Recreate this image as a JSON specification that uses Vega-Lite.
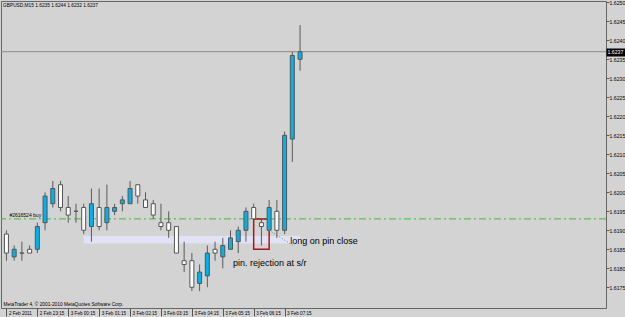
{
  "$schema": "https://vega.github.io/schema/vega-lite/v6.json",
  "width": 605,
  "height": 307,
  "autosize": {"type": "none"},
  "padding": {"left": 1, "top": 1, "right": 19, "bottom": 9},
  "background": "#d3d3d3",
  "view": {"stroke": "#666666", "strokeWidth": 1},
  "config": {
    "font": "Liberation Sans",
    "axisX": {
      "labelAlign": "left", "labelBaseline": "top", "labelFlush": false, "labelOverlap": false, "labelBound": false,
      "labelOffset": 2, "labelPadding": -6, "labelFontSize": 4.6, "labelColor": "#000000", "labelFont": "Liberation Sans",
      "tickSize": 8, "tickColor": "#555555", "tickWidth": 1, "domain": false, "grid": false,
      "titleX": 2, "titleY": -1.5, "titleAlign": "left", "titleBaseline": "bottom", "titleFontSize": 4.8,
      "titleFontWeight": "normal", "titleColor": "#000000", "titleFont": "Liberation Sans"
    },
    "axisY": {
      "labelFontSize": 5.2, "labelFont": "Liberation Sans", "labelAlign": "left", "labelBaseline": "middle",
      "labelOverlap": false, "labelBound": false, "domain": false, "grid": false
    }
  },
  "title": {
    "text": "GBPUSD,M15  1.6235 1.6244 1.6232 1.6237",
    "anchor": "start",
    "frame": "group",
    "orient": "top",
    "offset": -8,
    "dx": 2,
    "fontSize": 4.8,
    "fontWeight": "normal",
    "font": "Liberation Sans",
    "color": "#000000"
  },
  "datasets": {
    "candles": [
      {"t": "2011-02-02T22:15:00Z", "o": 1.6189, "h": 1.6190, "l": 1.6182, "c": 1.6184},
      {"t": "2011-02-02T22:30:00Z", "o": 1.6183, "h": 1.6186, "l": 1.6182, "c": 1.6185},
      {"t": "2011-02-02T22:45:00Z", "o": 1.6184, "h": 1.6187, "l": 1.6182, "c": 1.6184},
      {"t": "2011-02-02T23:00:00Z", "o": 1.6185, "h": 1.6186, "l": 1.6184, "c": 1.6184},
      {"t": "2011-02-02T23:15:00Z", "o": 1.6185, "h": 1.6192, "l": 1.6184, "c": 1.6191},
      {"t": "2011-02-02T23:30:00Z", "o": 1.6192, "h": 1.6200, "l": 1.6190, "c": 1.6199},
      {"t": "2011-02-02T23:45:00Z", "o": 1.6197, "h": 1.6203, "l": 1.6196, "c": 1.6201},
      {"t": "2011-02-03T00:00:00Z", "o": 1.6202, "h": 1.6203, "l": 1.6195, "c": 1.6196},
      {"t": "2011-02-03T00:15:00Z", "o": 1.6196, "h": 1.6199, "l": 1.6192, "c": 1.6194},
      {"t": "2011-02-03T00:30:00Z", "o": 1.6195, "h": 1.6197, "l": 1.6192, "c": 1.6195},
      {"t": "2011-02-03T00:45:00Z", "o": 1.6196, "h": 1.6197, "l": 1.6189, "c": 1.6190},
      {"t": "2011-02-03T01:00:00Z", "o": 1.6191, "h": 1.6201, "l": 1.6187, "c": 1.6197},
      {"t": "2011-02-03T01:15:00Z", "o": 1.6196, "h": 1.6201, "l": 1.6190, "c": 1.6191},
      {"t": "2011-02-03T01:30:00Z", "o": 1.6192, "h": 1.6202, "l": 1.6190, "c": 1.6196},
      {"t": "2011-02-03T01:45:00Z", "o": 1.6195, "h": 1.6197, "l": 1.6194, "c": 1.6196},
      {"t": "2011-02-03T02:00:00Z", "o": 1.6197, "h": 1.6199, "l": 1.6195, "c": 1.6198},
      {"t": "2011-02-03T02:15:00Z", "o": 1.6197, "h": 1.6203, "l": 1.6197, "c": 1.6201},
      {"t": "2011-02-03T02:30:00Z", "o": 1.6202, "h": 1.6202, "l": 1.6197, "c": 1.6199},
      {"t": "2011-02-03T02:45:00Z", "o": 1.6198, "h": 1.6200, "l": 1.6196, "c": 1.6196},
      {"t": "2011-02-03T03:00:00Z", "o": 1.6197, "h": 1.6198, "l": 1.6193, "c": 1.6194},
      {"t": "2011-02-03T03:15:00Z", "o": 1.6192, "h": 1.6197, "l": 1.6190, "c": 1.6191},
      {"t": "2011-02-03T03:30:00Z", "o": 1.6192, "h": 1.6195, "l": 1.6188, "c": 1.6190},
      {"t": "2011-02-03T03:45:00Z", "o": 1.6191, "h": 1.6191, "l": 1.6184, "c": 1.6184},
      {"t": "2011-02-03T04:00:00Z", "o": 1.6182, "h": 1.6187, "l": 1.6179, "c": 1.6181},
      {"t": "2011-02-03T04:15:00Z", "o": 1.6182, "h": 1.6184, "l": 1.6174, "c": 1.6175},
      {"t": "2011-02-03T04:30:00Z", "o": 1.6176, "h": 1.6181, "l": 1.6174, "c": 1.6179},
      {"t": "2011-02-03T04:45:00Z", "o": 1.6178, "h": 1.6186, "l": 1.6175, "c": 1.6184},
      {"t": "2011-02-03T05:00:00Z", "o": 1.6185, "h": 1.6187, "l": 1.6182, "c": 1.6184},
      {"t": "2011-02-03T05:15:00Z", "o": 1.6183, "h": 1.6188, "l": 1.6180, "c": 1.6186},
      {"t": "2011-02-03T05:30:00Z", "o": 1.6185, "h": 1.6190, "l": 1.6185, "c": 1.6188},
      {"t": "2011-02-03T05:45:00Z", "o": 1.6187, "h": 1.6191, "l": 1.6184, "c": 1.6190},
      {"t": "2011-02-03T06:00:00Z", "o": 1.6190, "h": 1.6196, "l": 1.6187, "c": 1.6195},
      {"t": "2011-02-03T06:15:00Z", "o": 1.6196, "h": 1.6197, "l": 1.6193, "c": 1.6193},
      {"t": "2011-02-03T06:30:00Z", "o": 1.6192, "h": 1.6193, "l": 1.6186, "c": 1.6191},
      {"t": "2011-02-03T06:45:00Z", "o": 1.6190, "h": 1.6198, "l": 1.6190, "c": 1.6196},
      {"t": "2011-02-03T07:00:00Z", "o": 1.6195, "h": 1.6198, "l": 1.6188, "c": 1.6190},
      {"t": "2011-02-03T07:15:00Z", "o": 1.6190, "h": 1.6216, "l": 1.6189, "c": 1.6215},
      {"t": "2011-02-03T07:30:00Z", "o": 1.6214, "h": 1.6237, "l": 1.6208, "c": 1.6236},
      {"t": "2011-02-03T07:45:00Z", "o": 1.6235, "h": 1.6244, "l": 1.6232, "c": 1.6237}
    ],
    "zone": [{"start": "2011-02-03T00:45:00Z", "end": "2011-02-03T07:45:00Z", "lo": 1.61865, "hi": 1.61885}],
    "pinbox": [{"start": "2011-02-03T06:15:00Z", "end": "2011-02-03T06:45:00Z", "lo": 1.6185, "hi": 1.6193}],
    "orderline": [{"p": 1.6193, "t": "2011-02-02T22:15:00Z", "label": "#2616524 buy"}],
    "bidline": [{"p": 1.6237}],
    "trend": [{"t1": "2011-02-03T06:45:00Z", "p1": 1.6190, "t2": "2011-02-03T07:31:30Z", "p2": 1.6186}],
    "notes": [
      {"t": "2011-02-03T07:26:00Z", "p": 1.61873, "label": "long on pin close"},
      {"t": "2011-02-03T05:35:00Z", "p": 1.61814, "label": "pin. rejection at s/r"}
    ]
  },
  "layer": [
    {
      "data": {"name": "zone"},
      "mark": {"type": "rect", "color": "#e2e2f7"},
      "encoding": {
        "x": {"field": "start", "type": "temporal", "scale": {"type": "utc", "domain": [{"year": 2011, "month": 2, "date": 2, "hours": 22, "minutes": 14, "seconds": 10, "utc": true}, {"year": 2011, "month": 2, "date": 3, "hours": 17, "minutes": 29, "seconds": 13, "utc": true}]},
          "axis": {"values": [{"year": 2011, "month": 2, "date": 2, "hours": 22, "minutes": 15, "utc": true}, {"year": 2011, "month": 2, "date": 2, "hours": 23, "minutes": 15, "utc": true}, {"year": 2011, "month": 2, "date": 3, "hours": 0, "minutes": 15, "utc": true}, {"year": 2011, "month": 2, "date": 3, "hours": 1, "minutes": 15, "utc": true}, {"year": 2011, "month": 2, "date": 3, "hours": 2, "minutes": 15, "utc": true}, {"year": 2011, "month": 2, "date": 3, "hours": 3, "minutes": 15, "utc": true}, {"year": 2011, "month": 2, "date": 3, "hours": 4, "minutes": 15, "utc": true}, {"year": 2011, "month": 2, "date": 3, "hours": 5, "minutes": 15, "utc": true}, {"year": 2011, "month": 2, "date": 3, "hours": 6, "minutes": 15, "utc": true}, {"year": 2011, "month": 2, "date": 3, "hours": 7, "minutes": 15, "utc": true}], "labelExpr": "utcFormat(datum.value, '%H:%M') == '22:15' ? '2 Feb 2011' : utcFormat(datum.value, '%-d %b %H:%M')", "title": "MetaTrader 4, © 2001-2010 MetaQuotes Software Corp."}},
        "x2": {"field": "end"},
        "y": {"field": "lo", "type": "quantitative", "scale": {"domain": [1.616955, 1.625034], "nice": false, "zero": false},
          "axis": {"orient": "right", "title": null, "format": ".4f", "values": [1.6175, 1.618, 1.6185, 1.619, 1.6195, 1.62, 1.6205, 1.621, 1.6215, 1.622, 1.6225, 1.623, 1.6235, 1.624, 1.6245, 1.625, 1.6237], "labelColor": {"condition": {"test": "datum.value == 1.6237", "value": "#ffffff"}, "value": "#000000"}, "labelPadding": {"condition": {"test": "datum.value == 1.6237", "value": -18}, "value": 0}, "tickSize": {"condition": {"test": "datum.value == 1.6237", "value": 19}, "value": 3}, "tickWidth": {"condition": {"test": "datum.value == 1.6237", "value": 8}, "value": 1}, "tickColor": {"condition": {"test": "datum.value == 1.6237", "value": "#000000"}, "value": "#555555"}}},
        "y2": {"field": "hi"}
      }
    },
    {
      "data": {"name": "orderline"},
      "mark": {"type": "rule", "color": "#3cbf3c", "strokeWidth": 1, "strokeDash": [7, 3, 2, 3]},
      "encoding": {
        "y": {"field": "p", "type": "quantitative", "scale": {"domain": [1.616955, 1.625034], "nice": false, "zero": false},
          "axis": {"orient": "right", "title": null, "format": ".4f", "values": [1.6175, 1.618, 1.6185, 1.619, 1.6195, 1.62, 1.6205, 1.621, 1.6215, 1.622, 1.6225, 1.623, 1.6235, 1.624, 1.6245, 1.625, 1.6237], "labelColor": {"condition": {"test": "datum.value == 1.6237", "value": "#ffffff"}, "value": "#000000"}, "labelPadding": {"condition": {"test": "datum.value == 1.6237", "value": -18}, "value": 0}, "tickSize": {"condition": {"test": "datum.value == 1.6237", "value": 19}, "value": 3}, "tickWidth": {"condition": {"test": "datum.value == 1.6237", "value": 8}, "value": 1}, "tickColor": {"condition": {"test": "datum.value == 1.6237", "value": "#000000"}, "value": "#555555"}}}
      }
    },
    {
      "data": {"name": "bidline"},
      "mark": {"type": "rule", "color": "#8c8c8c", "strokeWidth": 1},
      "encoding": {
        "y": {"field": "p", "type": "quantitative", "scale": {"domain": [1.616955, 1.625034], "nice": false, "zero": false},
          "axis": {"orient": "right", "title": null, "format": ".4f", "values": [1.6175, 1.618, 1.6185, 1.619, 1.6195, 1.62, 1.6205, 1.621, 1.6215, 1.622, 1.6225, 1.623, 1.6235, 1.624, 1.6245, 1.625, 1.6237], "labelColor": {"condition": {"test": "datum.value == 1.6237", "value": "#ffffff"}, "value": "#000000"}, "labelPadding": {"condition": {"test": "datum.value == 1.6237", "value": -18}, "value": 0}, "tickSize": {"condition": {"test": "datum.value == 1.6237", "value": 19}, "value": 3}, "tickWidth": {"condition": {"test": "datum.value == 1.6237", "value": 8}, "value": 1}, "tickColor": {"condition": {"test": "datum.value == 1.6237", "value": "#000000"}, "value": "#555555"}}}
      }
    },
    {
      "data": {"name": "pinbox"},
      "mark": {"type": "rect", "fill": null, "fillOpacity": 0, "stroke": "#a81818", "strokeWidth": 1.5},
      "encoding": {
        "x": {"field": "start", "type": "temporal", "scale": {"type": "utc", "domain": [{"year": 2011, "month": 2, "date": 2, "hours": 22, "minutes": 14, "seconds": 10, "utc": true}, {"year": 2011, "month": 2, "date": 3, "hours": 17, "minutes": 29, "seconds": 13, "utc": true}]},
          "axis": {"values": [{"year": 2011, "month": 2, "date": 2, "hours": 22, "minutes": 15, "utc": true}, {"year": 2011, "month": 2, "date": 2, "hours": 23, "minutes": 15, "utc": true}, {"year": 2011, "month": 2, "date": 3, "hours": 0, "minutes": 15, "utc": true}, {"year": 2011, "month": 2, "date": 3, "hours": 1, "minutes": 15, "utc": true}, {"year": 2011, "month": 2, "date": 3, "hours": 2, "minutes": 15, "utc": true}, {"year": 2011, "month": 2, "date": 3, "hours": 3, "minutes": 15, "utc": true}, {"year": 2011, "month": 2, "date": 3, "hours": 4, "minutes": 15, "utc": true}, {"year": 2011, "month": 2, "date": 3, "hours": 5, "minutes": 15, "utc": true}, {"year": 2011, "month": 2, "date": 3, "hours": 6, "minutes": 15, "utc": true}, {"year": 2011, "month": 2, "date": 3, "hours": 7, "minutes": 15, "utc": true}], "labelExpr": "utcFormat(datum.value, '%H:%M') == '22:15' ? '2 Feb 2011' : utcFormat(datum.value, '%-d %b %H:%M')", "title": "MetaTrader 4, © 2001-2010 MetaQuotes Software Corp."}},
        "x2": {"field": "end"},
        "y": {"field": "lo", "type": "quantitative", "scale": {"domain": [1.616955, 1.625034], "nice": false, "zero": false},
          "axis": {"orient": "right", "title": null, "format": ".4f", "values": [1.6175, 1.618, 1.6185, 1.619, 1.6195, 1.62, 1.6205, 1.621, 1.6215, 1.622, 1.6225, 1.623, 1.6235, 1.624, 1.6245, 1.625, 1.6237], "labelColor": {"condition": {"test": "datum.value == 1.6237", "value": "#ffffff"}, "value": "#000000"}, "labelPadding": {"condition": {"test": "datum.value == 1.6237", "value": -18}, "value": 0}, "tickSize": {"condition": {"test": "datum.value == 1.6237", "value": 19}, "value": 3}, "tickWidth": {"condition": {"test": "datum.value == 1.6237", "value": 8}, "value": 1}, "tickColor": {"condition": {"test": "datum.value == 1.6237", "value": "#000000"}, "value": "#555555"}}},
        "y2": {"field": "hi"}
      }
    },
    {
      "data": {"name": "candles"},
      "mark": {"type": "rule", "color": "#5a5a5a", "strokeWidth": 1},
      "encoding": {
        "x": {"field": "t", "type": "temporal", "scale": {"type": "utc", "domain": [{"year": 2011, "month": 2, "date": 2, "hours": 22, "minutes": 14, "seconds": 10, "utc": true}, {"year": 2011, "month": 2, "date": 3, "hours": 17, "minutes": 29, "seconds": 13, "utc": true}]},
          "axis": {"values": [{"year": 2011, "month": 2, "date": 2, "hours": 22, "minutes": 15, "utc": true}, {"year": 2011, "month": 2, "date": 2, "hours": 23, "minutes": 15, "utc": true}, {"year": 2011, "month": 2, "date": 3, "hours": 0, "minutes": 15, "utc": true}, {"year": 2011, "month": 2, "date": 3, "hours": 1, "minutes": 15, "utc": true}, {"year": 2011, "month": 2, "date": 3, "hours": 2, "minutes": 15, "utc": true}, {"year": 2011, "month": 2, "date": 3, "hours": 3, "minutes": 15, "utc": true}, {"year": 2011, "month": 2, "date": 3, "hours": 4, "minutes": 15, "utc": true}, {"year": 2011, "month": 2, "date": 3, "hours": 5, "minutes": 15, "utc": true}, {"year": 2011, "month": 2, "date": 3, "hours": 6, "minutes": 15, "utc": true}, {"year": 2011, "month": 2, "date": 3, "hours": 7, "minutes": 15, "utc": true}], "labelExpr": "utcFormat(datum.value, '%H:%M') == '22:15' ? '2 Feb 2011' : utcFormat(datum.value, '%-d %b %H:%M')", "title": "MetaTrader 4, © 2001-2010 MetaQuotes Software Corp."}},
        "y": {"field": "l", "type": "quantitative", "scale": {"domain": [1.616955, 1.625034], "nice": false, "zero": false},
          "axis": {"orient": "right", "title": null, "format": ".4f", "values": [1.6175, 1.618, 1.6185, 1.619, 1.6195, 1.62, 1.6205, 1.621, 1.6215, 1.622, 1.6225, 1.623, 1.6235, 1.624, 1.6245, 1.625, 1.6237], "labelColor": {"condition": {"test": "datum.value == 1.6237", "value": "#ffffff"}, "value": "#000000"}, "labelPadding": {"condition": {"test": "datum.value == 1.6237", "value": -18}, "value": 0}, "tickSize": {"condition": {"test": "datum.value == 1.6237", "value": 19}, "value": 3}, "tickWidth": {"condition": {"test": "datum.value == 1.6237", "value": 8}, "value": 1}, "tickColor": {"condition": {"test": "datum.value == 1.6237", "value": "#000000"}, "value": "#555555"}}},
        "y2": {"field": "h"}
      }
    },
    {
      "data": {"name": "candles"},
      "mark": {"type": "bar", "size": 4, "stroke": "#555555", "strokeWidth": 1},
      "encoding": {
        "x": {"field": "t", "type": "temporal", "scale": {"type": "utc", "domain": [{"year": 2011, "month": 2, "date": 2, "hours": 22, "minutes": 14, "seconds": 10, "utc": true}, {"year": 2011, "month": 2, "date": 3, "hours": 17, "minutes": 29, "seconds": 13, "utc": true}]},
          "axis": {"values": [{"year": 2011, "month": 2, "date": 2, "hours": 22, "minutes": 15, "utc": true}, {"year": 2011, "month": 2, "date": 2, "hours": 23, "minutes": 15, "utc": true}, {"year": 2011, "month": 2, "date": 3, "hours": 0, "minutes": 15, "utc": true}, {"year": 2011, "month": 2, "date": 3, "hours": 1, "minutes": 15, "utc": true}, {"year": 2011, "month": 2, "date": 3, "hours": 2, "minutes": 15, "utc": true}, {"year": 2011, "month": 2, "date": 3, "hours": 3, "minutes": 15, "utc": true}, {"year": 2011, "month": 2, "date": 3, "hours": 4, "minutes": 15, "utc": true}, {"year": 2011, "month": 2, "date": 3, "hours": 5, "minutes": 15, "utc": true}, {"year": 2011, "month": 2, "date": 3, "hours": 6, "minutes": 15, "utc": true}, {"year": 2011, "month": 2, "date": 3, "hours": 7, "minutes": 15, "utc": true}], "labelExpr": "utcFormat(datum.value, '%H:%M') == '22:15' ? '2 Feb 2011' : utcFormat(datum.value, '%-d %b %H:%M')", "title": "MetaTrader 4, © 2001-2010 MetaQuotes Software Corp."}},
        "y": {"field": "o", "type": "quantitative", "scale": {"domain": [1.616955, 1.625034], "nice": false, "zero": false},
          "axis": {"orient": "right", "title": null, "format": ".4f", "values": [1.6175, 1.618, 1.6185, 1.619, 1.6195, 1.62, 1.6205, 1.621, 1.6215, 1.622, 1.6225, 1.623, 1.6235, 1.624, 1.6245, 1.625, 1.6237], "labelColor": {"condition": {"test": "datum.value == 1.6237", "value": "#ffffff"}, "value": "#000000"}, "labelPadding": {"condition": {"test": "datum.value == 1.6237", "value": -18}, "value": 0}, "tickSize": {"condition": {"test": "datum.value == 1.6237", "value": 19}, "value": 3}, "tickWidth": {"condition": {"test": "datum.value == 1.6237", "value": 8}, "value": 1}, "tickColor": {"condition": {"test": "datum.value == 1.6237", "value": "#000000"}, "value": "#555555"}}},
        "y2": {"field": "c"},
        "fill": {"condition": {"test": "datum.c > datum.o", "value": "#00b2ee"}, "value": "#ffffff"}
      }
    },
    {
      "data": {"name": "trend"},
      "mark": {"type": "rule", "color": "#808080", "strokeWidth": 1, "strokeDash": [1, 2]},
      "encoding": {
        "x": {"field": "t1", "type": "temporal", "scale": {"type": "utc", "domain": [{"year": 2011, "month": 2, "date": 2, "hours": 22, "minutes": 14, "seconds": 10, "utc": true}, {"year": 2011, "month": 2, "date": 3, "hours": 17, "minutes": 29, "seconds": 13, "utc": true}]},
          "axis": {"values": [{"year": 2011, "month": 2, "date": 2, "hours": 22, "minutes": 15, "utc": true}, {"year": 2011, "month": 2, "date": 2, "hours": 23, "minutes": 15, "utc": true}, {"year": 2011, "month": 2, "date": 3, "hours": 0, "minutes": 15, "utc": true}, {"year": 2011, "month": 2, "date": 3, "hours": 1, "minutes": 15, "utc": true}, {"year": 2011, "month": 2, "date": 3, "hours": 2, "minutes": 15, "utc": true}, {"year": 2011, "month": 2, "date": 3, "hours": 3, "minutes": 15, "utc": true}, {"year": 2011, "month": 2, "date": 3, "hours": 4, "minutes": 15, "utc": true}, {"year": 2011, "month": 2, "date": 3, "hours": 5, "minutes": 15, "utc": true}, {"year": 2011, "month": 2, "date": 3, "hours": 6, "minutes": 15, "utc": true}, {"year": 2011, "month": 2, "date": 3, "hours": 7, "minutes": 15, "utc": true}], "labelExpr": "utcFormat(datum.value, '%H:%M') == '22:15' ? '2 Feb 2011' : utcFormat(datum.value, '%-d %b %H:%M')", "title": "MetaTrader 4, © 2001-2010 MetaQuotes Software Corp."}},
        "x2": {"field": "t2"},
        "y": {"field": "p1", "type": "quantitative", "scale": {"domain": [1.616955, 1.625034], "nice": false, "zero": false},
          "axis": {"orient": "right", "title": null, "format": ".4f", "values": [1.6175, 1.618, 1.6185, 1.619, 1.6195, 1.62, 1.6205, 1.621, 1.6215, 1.622, 1.6225, 1.623, 1.6235, 1.624, 1.6245, 1.625, 1.6237], "labelColor": {"condition": {"test": "datum.value == 1.6237", "value": "#ffffff"}, "value": "#000000"}, "labelPadding": {"condition": {"test": "datum.value == 1.6237", "value": -18}, "value": 0}, "tickSize": {"condition": {"test": "datum.value == 1.6237", "value": 19}, "value": 3}, "tickWidth": {"condition": {"test": "datum.value == 1.6237", "value": 8}, "value": 1}, "tickColor": {"condition": {"test": "datum.value == 1.6237", "value": "#000000"}, "value": "#555555"}}},
        "y2": {"field": "p2"}
      }
    },
    {
      "data": {"name": "orderline"},
      "mark": {"type": "text", "align": "left", "baseline": "bottom", "dx": 3, "dy": -1, "fontSize": 5, "font": "Liberation Sans", "color": "#000000"},
      "encoding": {
        "x": {"field": "t", "type": "temporal", "scale": {"type": "utc", "domain": [{"year": 2011, "month": 2, "date": 2, "hours": 22, "minutes": 14, "seconds": 10, "utc": true}, {"year": 2011, "month": 2, "date": 3, "hours": 17, "minutes": 29, "seconds": 13, "utc": true}]},
          "axis": {"values": [{"year": 2011, "month": 2, "date": 2, "hours": 22, "minutes": 15, "utc": true}, {"year": 2011, "month": 2, "date": 2, "hours": 23, "minutes": 15, "utc": true}, {"year": 2011, "month": 2, "date": 3, "hours": 0, "minutes": 15, "utc": true}, {"year": 2011, "month": 2, "date": 3, "hours": 1, "minutes": 15, "utc": true}, {"year": 2011, "month": 2, "date": 3, "hours": 2, "minutes": 15, "utc": true}, {"year": 2011, "month": 2, "date": 3, "hours": 3, "minutes": 15, "utc": true}, {"year": 2011, "month": 2, "date": 3, "hours": 4, "minutes": 15, "utc": true}, {"year": 2011, "month": 2, "date": 3, "hours": 5, "minutes": 15, "utc": true}, {"year": 2011, "month": 2, "date": 3, "hours": 6, "minutes": 15, "utc": true}, {"year": 2011, "month": 2, "date": 3, "hours": 7, "minutes": 15, "utc": true}], "labelExpr": "utcFormat(datum.value, '%H:%M') == '22:15' ? '2 Feb 2011' : utcFormat(datum.value, '%-d %b %H:%M')", "title": "MetaTrader 4, © 2001-2010 MetaQuotes Software Corp."}},
        "y": {"field": "p", "type": "quantitative", "scale": {"domain": [1.616955, 1.625034], "nice": false, "zero": false},
          "axis": {"orient": "right", "title": null, "format": ".4f", "values": [1.6175, 1.618, 1.6185, 1.619, 1.6195, 1.62, 1.6205, 1.621, 1.6215, 1.622, 1.6225, 1.623, 1.6235, 1.624, 1.6245, 1.625, 1.6237], "labelColor": {"condition": {"test": "datum.value == 1.6237", "value": "#ffffff"}, "value": "#000000"}, "labelPadding": {"condition": {"test": "datum.value == 1.6237", "value": -18}, "value": 0}, "tickSize": {"condition": {"test": "datum.value == 1.6237", "value": 19}, "value": 3}, "tickWidth": {"condition": {"test": "datum.value == 1.6237", "value": 8}, "value": 1}, "tickColor": {"condition": {"test": "datum.value == 1.6237", "value": "#000000"}, "value": "#555555"}}},
        "text": {"field": "label"}
      }
    },
    {
      "data": {"name": "notes"},
      "mark": {"type": "text", "align": "left", "baseline": "middle", "fontSize": 9, "font": "Liberation Sans", "color": "#000000"},
      "encoding": {
        "x": {"field": "t", "type": "temporal", "scale": {"type": "utc", "domain": [{"year": 2011, "month": 2, "date": 2, "hours": 22, "minutes": 14, "seconds": 10, "utc": true}, {"year": 2011, "month": 2, "date": 3, "hours": 17, "minutes": 29, "seconds": 13, "utc": true}]},
          "axis": {"values": [{"year": 2011, "month": 2, "date": 2, "hours": 22, "minutes": 15, "utc": true}, {"year": 2011, "month": 2, "date": 2, "hours": 23, "minutes": 15, "utc": true}, {"year": 2011, "month": 2, "date": 3, "hours": 0, "minutes": 15, "utc": true}, {"year": 2011, "month": 2, "date": 3, "hours": 1, "minutes": 15, "utc": true}, {"year": 2011, "month": 2, "date": 3, "hours": 2, "minutes": 15, "utc": true}, {"year": 2011, "month": 2, "date": 3, "hours": 3, "minutes": 15, "utc": true}, {"year": 2011, "month": 2, "date": 3, "hours": 4, "minutes": 15, "utc": true}, {"year": 2011, "month": 2, "date": 3, "hours": 5, "minutes": 15, "utc": true}, {"year": 2011, "month": 2, "date": 3, "hours": 6, "minutes": 15, "utc": true}, {"year": 2011, "month": 2, "date": 3, "hours": 7, "minutes": 15, "utc": true}], "labelExpr": "utcFormat(datum.value, '%H:%M') == '22:15' ? '2 Feb 2011' : utcFormat(datum.value, '%-d %b %H:%M')", "title": "MetaTrader 4, © 2001-2010 MetaQuotes Software Corp."}},
        "y": {"field": "p", "type": "quantitative", "scale": {"domain": [1.616955, 1.625034], "nice": false, "zero": false},
          "axis": {"orient": "right", "title": null, "format": ".4f", "values": [1.6175, 1.618, 1.6185, 1.619, 1.6195, 1.62, 1.6205, 1.621, 1.6215, 1.622, 1.6225, 1.623, 1.6235, 1.624, 1.6245, 1.625, 1.6237], "labelColor": {"condition": {"test": "datum.value == 1.6237", "value": "#ffffff"}, "value": "#000000"}, "labelPadding": {"condition": {"test": "datum.value == 1.6237", "value": -18}, "value": 0}, "tickSize": {"condition": {"test": "datum.value == 1.6237", "value": 19}, "value": 3}, "tickWidth": {"condition": {"test": "datum.value == 1.6237", "value": 8}, "value": 1}, "tickColor": {"condition": {"test": "datum.value == 1.6237", "value": "#000000"}, "value": "#555555"}}},
        "text": {"field": "label"}
      }
    }
  ]
}
